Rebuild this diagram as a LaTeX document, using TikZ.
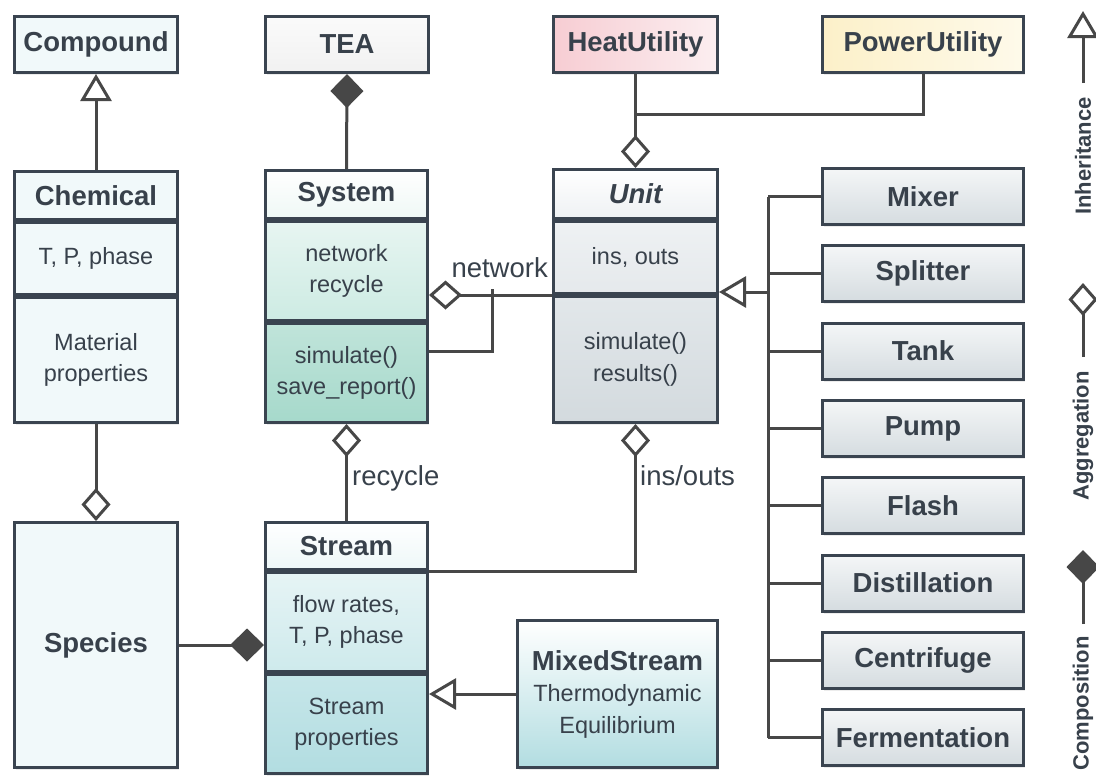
\documentclass[tikz,border=0pt]{standalone}
\usepackage{fontspec}
\setmainfont{Liberation Sans}
\usetikzlibrary{arrows.meta,shadows}
\definecolor{edge}{HTML}{3A4450}
\definecolor{wire}{HTML}{474747}
\definecolor{ink}{HTML}{38414B}
\definecolor{cyanA}{HTML}{F1F9FA}
\definecolor{teaA}{HTML}{F1F1F1}
\definecolor{heatL}{HTML}{F7CDD3}
\definecolor{heatR}{HTML}{FBEEF0}
\definecolor{powL}{HTML}{FCF0C9}
\definecolor{powR}{HTML}{FEFAEA}
\definecolor{sysA}{HTML}{E7F5F1}
\definecolor{sysB}{HTML}{CDEBE3}
\definecolor{sysC}{HTML}{C0E4DA}
\definecolor{sysD}{HTML}{A6D9CB}
\definecolor{unitA}{HTML}{EEF1F3}
\definecolor{unitB}{HTML}{E5E9EC}
\definecolor{unitC}{HTML}{E2E7EA}
\definecolor{unitD}{HTML}{D3DADE}
\definecolor{subA}{HTML}{F4F6F7}
\definecolor{subB}{HTML}{D5DCE0}
\definecolor{strA}{HTML}{E6F4F5}
\definecolor{strB}{HTML}{CEEAEC}
\definecolor{strC}{HTML}{C6E6E9}
\definecolor{strD}{HTML}{B2DDE1}
\newcommand{\ttlfont}{\bfseries\fontsize{27.5}{32}\selectfont}
\newcommand{\bdyfont}{\fontsize{23.5}{31.5}\selectfont}
\newcommand{\lblfont}{\fontsize{27.5}{32}\selectfont}
\newcommand{\lgdfont}{\bfseries\fontsize{22}{26}\selectfont}
\begin{document}
\begin{tikzpicture}[x=1pt,y=-1pt,font=\bdyfont,
  cls/.style={draw=edge,line width=3pt,inner sep=0pt,text=ink,align=center,anchor=north west,
    drop shadow={opacity=0.15,shadow xshift=1.5pt,shadow yshift=-2.5pt}},
  line/.style={draw=wire,line width=3pt},
  inh/.style={-{Triangle[open,length=27pt,width=31pt]}},
  agg/.style={-{Diamond[open,length=33pt,width=29pt]}},
  comp/.style={-{Diamond[length=34pt,width=33pt]}},
  lbl/.style={font=\lblfont,text=ink,inner sep=0pt},
  lgd/.style={font=\lgdfont,text=ink,inner sep=0pt,rotate=90}]
\fill[white] (0,0) rectangle (1096,777);
\useasboundingbox (0,0) rectangle (1096,777);
\node[cls,font=\ttlfont,fill=cyanA,minimum width=163pt,minimum height=56pt] (compound) at (13,15) {Compound};
\node[cls,font=\ttlfont,top color=white!70!teaA,bottom color=teaA,minimum width=163pt,minimum height=56pt] (tea) at (264,15) {TEA};
\node[cls,font=\ttlfont,left color=heatL,right color=heatR,minimum width=164pt,minimum height=56pt] (heat) at (552,15) {HeatUtility};
\node[cls,font=\ttlfont,left color=powL,right color=powR,minimum width=201pt,minimum height=56pt] (power) at (821,15) {PowerUtility};
\node[cls,font=\ttlfont,fill=cyanA,minimum width=163pt,minimum height=48pt] (chemT) at (13,170) {Chemical};
\node[cls,fill=cyanA,minimum width=163pt,minimum height=72pt] (chemA) at (chemT.south west) {T, P, phase};
\node[cls,fill=cyanA,minimum width=163pt,minimum height=125pt] (chemP) at (chemA.south west) {Material\\properties};
\node[cls,font=\ttlfont,fill=cyanA,minimum width=163pt,minimum height=245pt] (species) at (13,521) {Species};
\node[cls,font=\ttlfont,top color=white,bottom color=sysA!70,minimum width=162pt,minimum height=48pt] (sysT) at (264,169) {System};
\node[cls,top color=sysA,bottom color=sysB,minimum width=162pt,minimum height=99pt] (sysA) at (sysT.south west) {network\\recycle};
\node[cls,top color=sysC,bottom color=sysD,minimum width=162pt,minimum height=99pt] (sysM) at (sysA.south west) {simulate()\\save\_report()};
\node[cls,font=\ttlfont\itshape,top color=white,bottom color=unitA,minimum width=164pt,minimum height=49pt] (unitT) at (552,168) {Unit};
\node[cls,top color=unitA,bottom color=unitB,minimum width=164pt,minimum height=72pt] (unitA) at (unitT.south west) {ins, outs};
\node[cls,top color=unitC,bottom color=unitD,minimum width=164pt,minimum height=126pt] (unitM) at (unitA.south west) {simulate()\\results()};
\node[cls,font=\ttlfont,top color=white,bottom color=strA!70,minimum width=162pt,minimum height=47pt] (streamT) at (264,521) {Stream};
\node[cls,top color=strA,bottom color=strB,minimum width=162pt,minimum height=99pt] (streamA) at (streamT.south west) {flow rates,\\T, P, phase};
\node[cls,top color=strC,bottom color=strD,minimum width=162pt,minimum height=99pt] (streamP) at (streamA.south west) {Stream\\properties};
\node[cls,top color=white,bottom color=strD,minimum width=200pt,minimum height=147pt] (mixed) at (516,619) {{\ttlfont MixedStream}\\Thermodynamic\\Equilibrium};
\foreach \n/\t [count=\i from 0] in {mixer/Mixer,splitter/Splitter,tank/Tank,pump/Pump,flash/Flash,distil/Distillation,centri/Centrifuge,ferm/Fermentation}
  \node[cls,font=\ttlfont,top color=subA,bottom color=subB,minimum width=201pt,minimum height=56pt] (\n) at (821,167+77.3*\i) {\t};
\coordinate (hj) at (634,114);
\coordinate (nj) at (492,289);
\coordinate (nk) at (492,351);
\coordinate (tr) at (768,292);
\draw[line,inh] (chemT.north) -- (compound.south);
\draw[line,comp] (sysT.north) -- (tea.south);
\draw[line,agg] (heat.south) -- (unitT.north);
\draw[line] (power.south) |- (hj);
\draw[line,agg] (unitM.north west) -- (unitM.north west -| sysA.east);
\node[lbl,anchor=base east] (netlbl) at (548,277) {network};
\draw[line] (nj) -- (nk) -- (nk -| sysM.east);
\draw[line,inh] (tr) -- (tr -| unitM.east);
\draw[line] (mixer.west -| tr) -- (ferm.west -| tr);
\foreach \n in {mixer,splitter,tank,pump,flash,distil,centri,ferm}
  \draw[line] (\n.west) -- (\n.west -| tr);
\draw[line,agg] (streamT.north) -- (sysM.south);
\node[lbl,anchor=base west] (reclbl) at (352,485) {recycle};
\draw[line,agg] (streamT.south east) -| (unitM.south);
\node[lbl,anchor=base west] (ioslbl) at (640,485) {ins/outs};
\draw[line,agg] (chemP.south) -- (species.north);
\draw[line,comp] (species.east) -- (species.east -| streamA.west);
\draw[line,inh] (mixed.west) -- (mixed.west -| streamP.east);
\coordinate (gi) at (1083,83); \coordinate (git) at (1083,11);
\coordinate (ga) at (1083,357); \coordinate (gat) at (1083,283);
\coordinate (gc) at (1083,624); \coordinate (gct) at (1083,550);
\draw[line,inh] (gi) -- (git);
\draw[line,agg] (ga) -- (gat);
\draw[line,comp] (gc) -- (gct);
\node[lgd,anchor=east] (gitxt) at (1083,97) {Inheritance};
\node[lgd,anchor=east] (gatxt) at (1083,371) {Aggregation};
\node[lgd,anchor=east] (gctxt) at (1083,636) {Composition};
\end{tikzpicture}
\end{document}
